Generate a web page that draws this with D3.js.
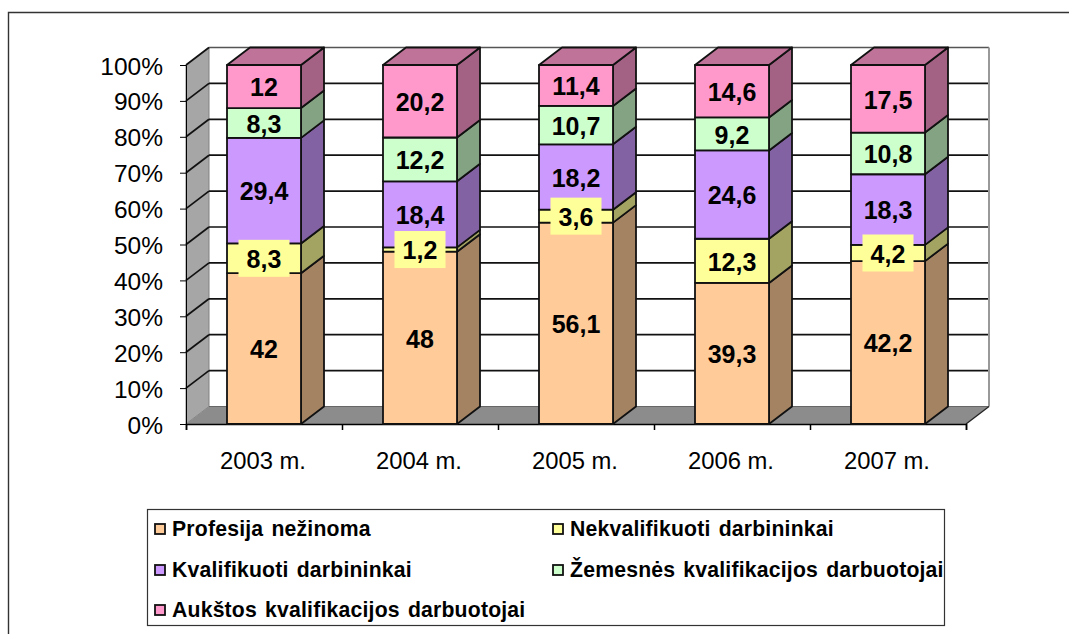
<!DOCTYPE html>
<html><head><meta charset="utf-8">
<script src="https://cdn.jsdelivr.net/npm/d3@7"></script>
<style>html,body{margin:0;padding:0;background:#fff}svg{display:block}text{font-family:"Liberation Sans",Arial,sans-serif;fill:#000}</style>
</head><body><svg id="c" width="1069" height="634"></svg>
<script>
const categories = ["2003 m.","2004 m.","2005 m.","2006 m.","2007 m."];
const seriesNames = ["Profesija nežinoma","Nekvalifikuoti darbininkai","Kvalifikuoti darbininkai","Žemesnės kvalifikacijos darbuotojai","Aukštos kvalifikacijos darbuotojai"];
const profesija = [42,48,56.1,39.3,42.2];
const nekvalifikuoti = [8.3,1.2,3.6,12.3,4.2];
const kvalifikuoti = [29.4,18.4,18.2,24.6,18.3];
const zemesnes = [8.3,12.2,10.7,9.2,10.8];
const aukstos = [12,20.2,11.4,14.6,17.5];
const seriesValues = [profesija,nekvalifikuoti,kvalifikuoti,zemesnes,aukstos];
const colors = ["#FFCC99","#FFFF99","#CC99FF","#CCFFCC","#FF99CC"];
const fmt = v => String(v).replace(".",",");

const svg = d3.select("#c");
const W=[186,966], Y=[424,65], DX=23, DY=-17.5;
const x = d3.scaleBand().domain(categories).range(W).paddingInner(82/156).paddingOuter(41/156);
const y = d3.scaleLinear().domain([0,1]).range(Y);
const rows = categories.map((c,i)=>{const o={cat:c};seriesNames.forEach((s,j)=>o[s]=seriesValues[j][i]);return o;});
const stacked = d3.stack().keys(seriesNames).offset(d3.stackOffsetExpand)(rows);
const poly = pts => pts.map(p=>p.join(",")).join(" ");

// outer frame
svg.append("path").attr("d","M8.5,634V12.5H1069").attr("fill","none").attr("stroke","#333").attr("stroke-width",1.4);

// walls
const wall = svg.append("g");
wall.append("polygon").attr("points",poly([[W[0],Y[0]],[W[0],Y[1]],[W[0]+DX,Y[1]+DY],[W[0]+DX,Y[0]+DY]])).attr("fill","#a6a6a6").attr("stroke","#808080").attr("stroke-width",1);
wall.append("polygon").attr("points",poly([[W[0],Y[0]],[W[0]+DX,Y[0]+DY],[W[1]+DX,Y[0]+DY],[W[1],Y[0]]])).attr("fill","#8c8c8c");
const ticks = d3.range(0,1.01,0.1);
ticks.forEach(t=>{
  const yy=y(t);
  if(t>0){
    wall.append("line").attr("x1",W[0]).attr("y1",yy).attr("x2",W[0]+DX).attr("y2",yy+DY).attr("stroke","#111").attr("stroke-width",1.7);
    wall.append("line").attr("x1",W[0]+DX).attr("y1",yy+DY).attr("x2",W[1]+DX).attr("y2",yy+DY).attr("stroke",t>0.95?"#555":"#111").attr("stroke-width",1.7);
  }
});
wall.append("line").attr("x1",W[1]+DX).attr("x2",W[1]+DX).attr("y1",Y[1]+DY).attr("y2",Y[0]+DY).attr("stroke","#999").attr("stroke-width",2);
wall.append("line").attr("x1",W[0]+DX).attr("x2",W[1]+DX).attr("y1",Y[0]+DY).attr("y2",Y[0]+DY).attr("stroke","#666").attr("stroke-width",1);
wall.append("line").attr("x1",W[1]).attr("y1",Y[0]).attr("x2",W[1]+DX).attr("y2",Y[0]+DY).attr("stroke","#222").attr("stroke-width",1.3);

// axes
const yAxis = d3.axisLeft(y).tickValues(ticks).tickFormat(d3.format(".0%")).tickSize(6).tickPadding(17);
const gy = svg.append("g").attr("transform",`translate(${W[0]},0)`).call(yAxis);
gy.selectAll("text").attr("font-size",24.5).attr("dy","0.37em").style("font-family",'"Liberation Sans"');
gy.selectAll("line,path").attr("stroke","#000");
const xEdge = d3.scaleLinear().domain([0,5]).range(W);
const gx = svg.append("g").attr("transform",`translate(0,${Y[0]})`);
gx.call(d3.axisBottom(xEdge).tickValues(d3.range(0,6)).tickSize(6).tickFormat(""));
gx.selectAll("line,path").attr("stroke","#000").attr("stroke-width",1.5);
svg.append("g").attr("transform",`translate(0,${Y[0]})`)
  .call(d3.axisBottom(x).tickSize(0).tickPadding(26))
  .call(g=>g.select("path").remove())
  .selectAll("text").attr("font-size",23.8).attr("dx",-1).attr("dy","0.78em").style("font-family",'"Liberation Sans"');

// bars
const shade=(c,k)=>{const r=d3.rgb(c);return d3.rgb(r.r*k,r.g*k,r.b*k).formatHex();};
const barG = svg.append("g").attr("stroke","#111").attr("stroke-width",1.8).attr("stroke-linejoin","round");
categories.forEach((c,i)=>{
  const x0=x(c), w=x.bandwidth(), g=barG.append("g");
  stacked.forEach((s,j)=>{
    const y0=y(s[i][0]), y1=y(s[i][1]), col=colors[j];
    g.append("polygon").attr("points",poly([[x0+w,y0],[x0+w,y1],[x0+w+DX,y1+DY],[x0+w+DX,y0+DY]])).attr("fill",shade(col,0.64));
    g.append("rect").attr("x",x0).attr("y",y1).attr("width",w).attr("height",y0-y1).attr("fill",col);
    if(j===stacked.length-1)
      g.append("polygon").attr("points",poly([[x0,y1],[x0+DX,y1+DY],[x0+w+DX,y1+DY],[x0+w,y1]])).attr("fill",shade(col,0.75));
  });
});

// data labels
const lab = svg.append("g");
stacked.forEach((s,j)=>{
  categories.forEach((c,i)=>{
    const cx=x(c)+x.bandwidth()/2, cy=(y(s[i][0])+y(s[i][1]))/2;
    if(j===1) lab.append("rect").attr("x",cx-25.5).attr("y",cy-18.5).attr("width",51).attr("height",37).attr("fill",colors[1]);
    lab.append("text").attr("x",cx).attr("y",cy).attr("dy","0.39em").attr("text-anchor","middle").attr("font-size",25).attr("font-weight","bold").text(fmt(seriesValues[j][i]));
  });
});

// legend
const lg = svg.append("g");
lg.append("rect").attr("x",147.5).attr("y",509.5).attr("width",797).attr("height",116).attr("fill","#fff").attr("stroke","#333").attr("stroke-width",1.2);
const legendPos = [[154,529],[552,529],[154,570],[552,570],[154,610]];
seriesNames.forEach((n,i)=>{
  const [lx,ly]=legendPos[i];
  lg.append("rect").attr("x",lx+1).attr("y",ly-5).attr("width",10).attr("height",10).attr("fill",colors[i]).attr("stroke","#111").attr("stroke-width",1.8);
  lg.append("text").attr("x",lx+18).attr("y",ly+7).attr("font-size",21.2).attr("font-weight","bold").attr("word-spacing",2).attr("letter-spacing",0.2).text(n);
});
</script></body></html>
